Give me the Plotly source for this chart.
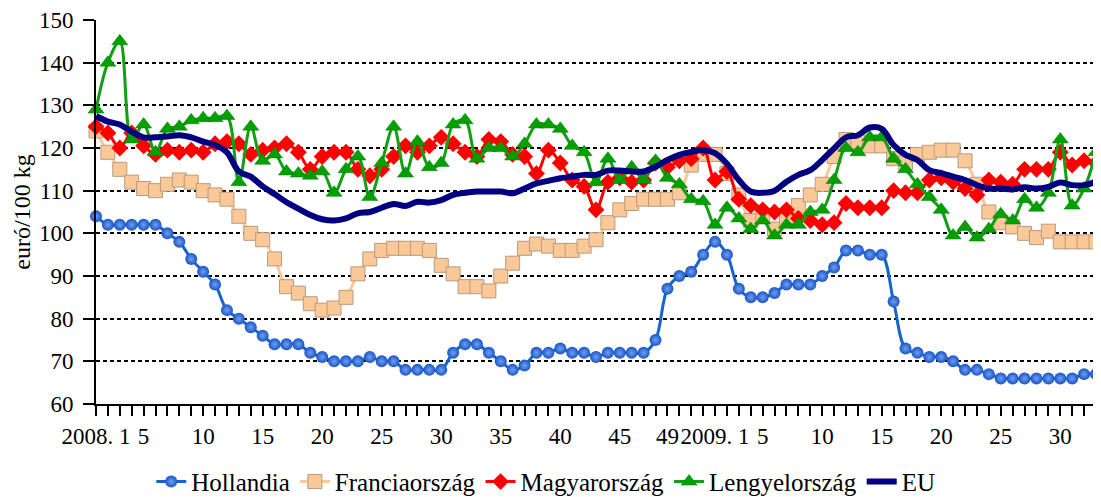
import plotly.graph_objects as go

# weekly prices, euro/100 kg: 2008 week 1 .. 2009 week 33
weeks_2008 = list(range(1, 53))
weeks_2009 = list(range(1, 34))
labeled_2008 = [1, 5, 10, 15, 20, 25, 30, 35, 40, 45, 49]
labeled_2009 = [1, 5, 10, 15, 20, 25, 30]

hollandia = [104, 102, 102, 102, 102, 102, 100, 98, 94, 91,
             88, 82, 80, 78, 76, 74, 74, 74, 72, 71,
             70, 70, 70, 71, 70, 70, 68, 68, 68, 68,
             72, 74, 74, 72, 70, 68, 69, 72, 72, 73,
             72, 72, 71, 72, 72, 72, 72, 75, 87, 90,
             91, 95, 98, 95, 87, 85, 85, 86, 88, 88,
             88, 90, 92, 96, 96, 95, 95, 84, 73, 72,
             71, 71, 70, 68, 68, 67, 66, 66, 66, 66,
             66, 66, 66, 67, 67]

franciaorszag = [124, 119, 115, 112, 110.5, 110, 111.5, 112.5, 112, 110,
                 109, 108, 104, 100, 98.5, 94, 87.5, 86, 83.5, 82,
                 82.5, 85, 90.5, 94, 96, 96.5, 96.5, 96.5, 96, 92.5,
                 90.5, 87.5, 87.5, 86.5, 90, 93, 96.5, 97.5, 97, 96,
                 96, 97, 98.5, 102.5, 105.5, 107, 108, 108, 108, 109.5,
                 116, 118.5, 118.5, 114, 109, 103, 104, 101, 103, 106.5,
                 109, 111.5, 118, 122, 121.5, 120.5, 120.5, 117.5, 116.5, 118.5,
                 119, 119.5, 119.5, 117, 111.5, 105, 102.5, 101.5, 100, 99,
                 100.5, 98, 98, 98, 98]

magyarorszag = [125, 123.5, 120, 123.5, 120.5, 118.5, 119.5, 119, 119.5, 119,
                121, 121.5, 121, 118.5, 119.5, 120, 121, 119, 115, 118,
                119, 119, 115, 113.5, 115, 118, 120.5, 119, 120.5, 122.5,
                121, 119, 118, 122, 121.5, 118.5, 118, 114, 119.5, 116.5,
                112.5, 111, 105.5, 112, 113, 112, 112.5, 116.5, 115.5, 117,
                117.5, 120, 112.5, 114.5, 108, 106.5, 105.5, 105, 105.5, 103.5,
                103, 102, 102.5, 107, 106, 106, 106, 110, 109.5, 109.5,
                112.5, 113, 112, 110.5, 109, 112.5, 112, 111.5, 115, 115,
                115, 119, 116, 117, 116.5]

lengyelorszag = [129, 140, 145, 122, 125.5, 119, 124.5, 125, 126.5, 127,
                 127, 127.5, 112, 125, 117, 118.5, 114.5, 114, 113.5, 114.5,
                 109.5, 115, 118, 108.5, 116.5, 125, 114, 121.5, 115.5, 116.5,
                 125.5, 126.5, 117.5, 120, 120, 118, 121, 125.5, 125.5, 124.5,
                 120.5, 119, 112, 117.5, 112.5, 115.5, 112.5, 117, 113, 111.5,
                 108, 107.5, 102, 106, 103.5, 101, 103, 99.5, 102, 102,
                 105, 105.5, 112.5, 120, 119, 122.5, 122.5, 117.5, 115, 111.5,
                 108.5, 105.5, 99.5, 101.5, 99, 101, 104.5, 103, 108, 106,
                 109.5, 122, 106.5, 110.5, 119]

eu = [127.5, 126.2, 125.5, 123.8, 122.5, 122.5, 122.7, 123, 122.5, 121.5,
      120.7, 119, 114.5, 113.3, 111, 109.2, 107.3, 105.8, 104.3, 103.3,
      103, 103.5, 104.7, 105, 106, 106.9, 106.4, 107.4, 107.2, 107.8,
      109, 109.5, 109.8, 109.8, 109.8, 109.4, 110.5, 111.7, 112.3, 112.9,
      113.3, 113.7, 113.7, 114.7, 114.7, 114.5, 114.5, 115.6, 117.2, 118.4,
      119.1, 119.5, 118.8, 116.3, 112.5, 109.8, 109.5, 110, 112.1, 113.7,
      114.8, 117.2, 119.9, 122.5, 123, 124.8, 124.5, 120.7, 118.4, 117.2,
      114.8, 114.1, 113.3, 112.5, 111.3, 110.5, 110.5, 110.3, 110.8, 110.5,
      110.9, 111.9, 111.3, 111.3, 112.1]

# tick labels: only a few weeks get a label
ticktext = []
for w in weeks_2008:
    ticktext.append(("2008. 1" if w == 1 else str(w)) if w in labeled_2008 else "")
for w in weeks_2009:
    ticktext.append(("2009. 1" if w == 1 else str(w)) if w in labeled_2009 else "")
x = list(range(1, len(ticktext) + 1))

FONT = "Liberation Serif"

fig = go.Figure()
fig.add_trace(go.Scatter(
    x=x, y=hollandia, name="Hollandia", mode="lines+markers",
    line=dict(color="#1565d0", width=3, shape="spline", smoothing=1),
    marker=dict(symbol="circle", size=12, color="#1a55c8",
                gradient=dict(type="radial", color="#6f9ff0"),
                line=dict(width=0)),
    cliponaxis=False))
fig.add_trace(go.Scatter(
    x=x, y=franciaorszag, name="Franciaország", mode="lines+markers",
    line=dict(color="#fbc898", width=3, shape="spline", smoothing=1),
    marker=dict(symbol="square", size=14, color="#fbc898",
                line=dict(color="#b89a80", width=1)),
    cliponaxis=False))
fig.add_trace(go.Scatter(
    x=x, y=magyarorszag, name="Magyarország", mode="lines+markers",
    line=dict(color="#ff0000", width=3, shape="spline", smoothing=1),
    marker=dict(symbol="diamond", size=13, color="#ff0000", line=dict(width=0)),
    cliponaxis=False))
fig.add_trace(go.Scatter(
    x=x, y=lengyelorszag, name="Lengyelország", mode="lines+markers",
    line=dict(color="#11a011", width=3, shape="spline", smoothing=1),
    marker=dict(symbol="triangle-up", size=14, color="#00a000",
                line=dict(color="#0a7a0a", width=0.5)),
    cliponaxis=False))
fig.add_trace(go.Scatter(
    x=x, y=eu, name="EU", mode="lines",
    line=dict(color="#000080", width=6, shape="spline", smoothing=1),
    cliponaxis=False))

# the page body adds an 8px margin, so the figure is 8px smaller each way
fig.update_layout(
    width=1093, height=489,
    margin=dict(l=88, r=5, t=12, b=93, autoexpand=False),
    paper_bgcolor="white", plot_bgcolor="white",
    font=dict(family=FONT, size=23, color="black"),
    showlegend=True,
    legend=dict(orientation="h", xref="container", yref="container",
                x=0.492, xanchor="center", y=0.031, yanchor="middle",
                font=dict(size=25), itemwidth=30, tracegroupgap=0,
                bgcolor="rgba(0,0,0,0)"),
)
fig.update_xaxes(
    range=[1, 85], tickmode="array", tickvals=x, ticktext=ticktext,
    ticks="outside", ticklen=10, tickwidth=2, tickcolor="black",
    showline=True, linecolor="black", linewidth=2,
    showgrid=False, zeroline=False, tickangle=0,
    tickfont=dict(size=23))
fig.update_yaxes(
    range=[60, 150], dtick=10, tick0=60,
    ticks="outside", ticklen=11, tickwidth=2, tickcolor="black",
    ticklabelstandoff=5,
    showline=True, linecolor="black", linewidth=2,
    showgrid=True, gridcolor="black", gridwidth=2, griddash="4px,3px",
    zeroline=False, tickfont=dict(size=23),
    title=dict(text="euró/100 kg", font=dict(size=24), standoff=2))

fig.write_html("out.html")
